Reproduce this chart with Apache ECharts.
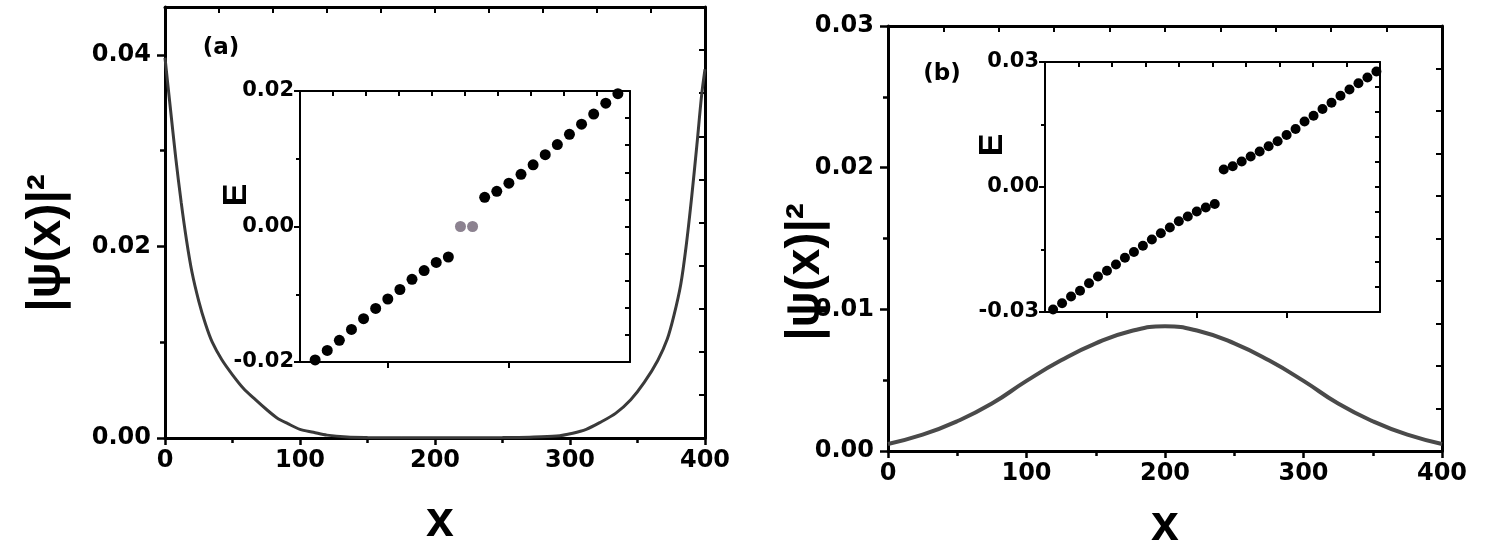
<!DOCTYPE html>
<html><head><meta charset="utf-8">
<script src="https://cdn.jsdelivr.net/npm/echarts@6/dist/echarts.min.js"></script>
<style>html,body{margin:0;padding:0;background:#fff}#c{width:1489px;height:556px}</style>
</head><body><div id="c"></div>
<script>
// ---------- panel (a): edge-state density ----------
const xA = [0,4,8,12,16,20,25,30,35,42,50,58,67,75,83,91,100,110,120,135,150,175,200,225,250,270,290,302,312,322,334,345,355,365,372,377,382,386,390,394,397.5,400];
const psiA = [0.0397,0.0344,0.0292,0.0246,0.0206,0.0173,0.0143,0.0119,0.0100,0.0082,0.0066,0.0052,0.0040,0.0030,0.0021,0.0015,0.0009,0.0006,0.0003,0.0001,0.00005,0.00003,0.00002,0.00003,0.00004,0.00008,0.0002,0.0005,0.0009,0.0016,0.0026,0.0040,0.0058,0.0081,0.0103,0.0128,0.0160,0.0200,0.0250,0.0306,0.0358,0.0385];
// inset (a): eigenvalues E vs index
const nA_low = [4,5,6,7,8,9,10,11,12,13,14,15];
const EA_low = [-0.0197,-0.0183,-0.0168,-0.0152,-0.0136,-0.0121,-0.0107,-0.0093,-0.0078,-0.0065,-0.0053,-0.0045];
const nA_mid = [16,17];
const EA_mid = [0.0,0.0];
const nA_up = [18,19,20,21,22,23,24,25,26,27,28,29];
const EA_up = [0.0043,0.0052,0.0064,0.0077,0.0091,0.0106,0.0121,0.0136,0.0151,0.0166,0.0182,0.0196];
// ---------- panel (b): bulk-state density ----------
const xB = [0,25,50,75,100,125,150,175,200,225,250,275,300,325,350,375,400];
const psiB = [0.00050,0.00115,0.00210,0.00335,0.00495,0.00640,0.00760,0.00845,0.00880,0.00845,0.00760,0.00640,0.00495,0.00335,0.00210,0.00115,0.00050];
// inset (b)
const nB_low = [4,5,6,7,8,9,10,11,12,13,14,15,16,17,18,19,20,21,22];
const EB_low = [-0.0294,-0.0279,-0.0263,-0.0249,-0.0231,-0.0215,-0.0201,-0.0186,-0.0170,-0.0156,-0.0141,-0.0126,-0.0111,-0.0097,-0.0082,-0.0071,-0.0059,-0.0049,-0.0041];
const nB_up = [23,24,25,26,27,28,29,30,31,32,33,34,35,36,37,38,39,40];
const EB_up = [0.0042,0.0050,0.0061,0.0073,0.0085,0.0098,0.0110,0.0125,0.0139,0.0157,0.0171,0.0187,0.0202,0.0219,0.0234,0.0249,0.0263,0.0277];
// tick labels
const mainXTicks = [0,100,200,300,400];
const yTicksA = [0,0.02,0.04];
const yMinorA = [0.01,0.03];
const insetTicksA = [10,20];
const insetTicksB = [10,20,30];

const F = 'DejaVu Sans';
const pair = (xs, ys) => xs.map((x, i) => [x, ys[i]]);
const fmt = v => (Math.abs(v) < 1e-12 ? 0 : v).toFixed(2);

function mainX(g){ return {type:'value',gridIndex:g,position:'bottom',min:0,max:400,interval:100,
  axisLine:{show:true,onZero:false,lineStyle:{color:'#000',width:3}},
  axisTick:{show:true,inside:false,length:7,lineStyle:{color:'#000',width:2.5}},
  minorTick:{show:true,splitNumber:2,length:5,lineStyle:{color:'#000',width:2.5}},
  splitLine:{show:false},minorSplitLine:{show:false},
  axisLabel:{margin:11,color:'#000',fontFamily:F,fontWeight:'bold',fontSize:24}}; }
function frameX(g,w,len){ return {type:'value',gridIndex:g,position:'top',min:0,max:10,interval:1,
  axisLine:{show:true,onZero:false,lineStyle:{color:'#000',width:w}},
  axisTick:{show:true,inside:true,length:len,lineStyle:{color:'#000',width:2}},
  axisLabel:{show:false},splitLine:{show:false}}; }
function frameY(g,w,len){ return {type:'value',gridIndex:g,position:'right',min:0,max:10,interval:1,
  axisLine:{show:true,onZero:false,lineStyle:{color:'#000',width:w}},
  axisTick:{show:true,inside:true,length:len,lineStyle:{color:'#000',width:2}},
  axisLabel:{show:false},splitLine:{show:false}}; }
function insetX(g,min,max,ticks){ return {type:'value',gridIndex:g,position:'bottom',min:min,max:max,
  axisLine:{show:true,onZero:false,lineStyle:{color:'#000',width:2}},
  axisTick:{show:true,inside:false,length:6,customValues:ticks,lineStyle:{color:'#000',width:2}},
  axisLabel:{show:false},splitLine:{show:false}}; }
function insetY(g,lim){ return {type:'value',gridIndex:g,position:'left',min:-lim,max:lim,interval:lim,
  axisLine:{show:true,onZero:false,lineStyle:{color:'#000',width:2}},
  axisTick:{show:true,inside:false,length:6,lineStyle:{color:'#000',width:2}},
  minorTick:{show:true,splitNumber:2,length:4,lineStyle:{color:'#000',width:2}},
  splitLine:{show:false},minorSplitLine:{show:false},
  axisLabel:{margin:6,color:'#000',fontFamily:F,fontWeight:'bold',fontSize:21,formatter:fmt}}; }

const txt = (x, y, text, font, rot) => ({type:'text',x:x,y:y,rotation:rot||0,
  style:{text:text,fill:'#000',font:font,align:'center',verticalAlign:'middle',textAlign:'center',textVerticalAlign:'middle'}});

const chart = echarts.init(document.getElementById('c'), null, {renderer:'canvas'});
chart.setOption({
  backgroundColor:'#fff',
  animation:false,
  grid:[
    {left:165,top:7,width:540,height:431,containLabel:false},
    {left:300,top:91,width:330,height:271,containLabel:false},
    {left:888,top:26,width:554,height:425,containLabel:false},
    {left:1045,top:62,width:335,height:250,containLabel:false}
  ],
  xAxis:[
    mainX(0), frameX(0,3,6),
    insetX(1,2.75,30,insetTicksA), frameX(1,2,5),
    mainX(2), frameX(2,3,6),
    insetX(3,3.1,40.4,insetTicksB), frameX(3,2,5)
  ],
  yAxis:[
    {type:'value',gridIndex:0,position:'left',min:0,max:0.045,
     axisLine:{show:true,onZero:false,lineStyle:{color:'#000',width:3}},
     axisTick:{show:true,inside:false,length:8,customValues:yTicksA,lineStyle:{color:'#000',width:2.5}},
     axisLabel:{margin:14,customValues:yTicksA,color:'#000',fontFamily:F,fontWeight:'bold',fontSize:24,formatter:fmt},
     splitLine:{show:false}},
    {type:'value',gridIndex:0,position:'left',min:0,max:0.045,
     axisLine:{show:false},
     axisTick:{show:true,inside:false,length:5,customValues:yMinorA,lineStyle:{color:'#000',width:2.5}},
     axisLabel:{show:false},splitLine:{show:false}},
    frameY(0,3,6),
    insetY(1,0.02), frameY(1,2,5),
    {type:'value',gridIndex:2,position:'left',min:0,max:0.03,interval:0.01,
     axisLine:{show:true,onZero:false,lineStyle:{color:'#000',width:3}},
     axisTick:{show:true,inside:false,length:8,lineStyle:{color:'#000',width:2.5}},
     minorTick:{show:true,splitNumber:2,length:5,lineStyle:{color:'#000',width:2.5}},
     axisLabel:{margin:14,color:'#000',fontFamily:F,fontWeight:'bold',fontSize:24,formatter:fmt},
     splitLine:{show:false},minorSplitLine:{show:false}},
    frameY(2,3,6),
    insetY(3,0.03), frameY(3,2,5)
  ],
  series:[
    {type:'line',xAxisIndex:0,yAxisIndex:0,data:pair(xA,psiA),showSymbol:false,smooth:0.3,
     lineStyle:{color:'#3a3a3a',width:3},silent:true},
    {type:'scatter',xAxisIndex:2,yAxisIndex:3,data:pair(nA_low,EA_low),symbolSize:11,itemStyle:{color:'#000',opacity:1},clip:false},
    {type:'scatter',xAxisIndex:2,yAxisIndex:3,data:pair(nA_mid,EA_mid),symbolSize:11,itemStyle:{color:'#8c8290',opacity:1},clip:false},
    {type:'scatter',xAxisIndex:2,yAxisIndex:3,data:pair(nA_up,EA_up),symbolSize:11,itemStyle:{color:'#000',opacity:1},clip:false},
    {type:'line',xAxisIndex:4,yAxisIndex:5,data:pair(xB,psiB),showSymbol:false,smooth:0.5,
     lineStyle:{color:'#4a4a4a',width:4},silent:true},
    {type:'scatter',xAxisIndex:6,yAxisIndex:7,data:pair(nB_low,EB_low),symbolSize:10,itemStyle:{color:'#000',opacity:1},clip:false},
    {type:'scatter',xAxisIndex:6,yAxisIndex:7,data:pair(nB_up,EB_up),symbolSize:10,itemStyle:{color:'#000',opacity:1},clip:false}
  ],
  graphic:[
    txt(221,48,'(a)','bold 23px "DejaVu Sans"'),
    txt(942,74,'(b)','bold 23px "DejaVu Sans"'),
    txt(237,195,'E','bold 34px "Liberation Sans"',Math.PI/2),
    txt(993,145,'E','bold 34px "Liberation Sans"',Math.PI/2),
    txt(440,522,'x','bold 50px "Liberation Sans"'),
    txt(1165,526,'x','bold 50px "Liberation Sans"'),
    txt(47,243,'|ψ(x)|²','bold 48px "Liberation Sans"',Math.PI/2),
    txt(806,272,'|ψ(x)|²','bold 48px "Liberation Sans"',Math.PI/2)
  ]
});
</script></body></html>
